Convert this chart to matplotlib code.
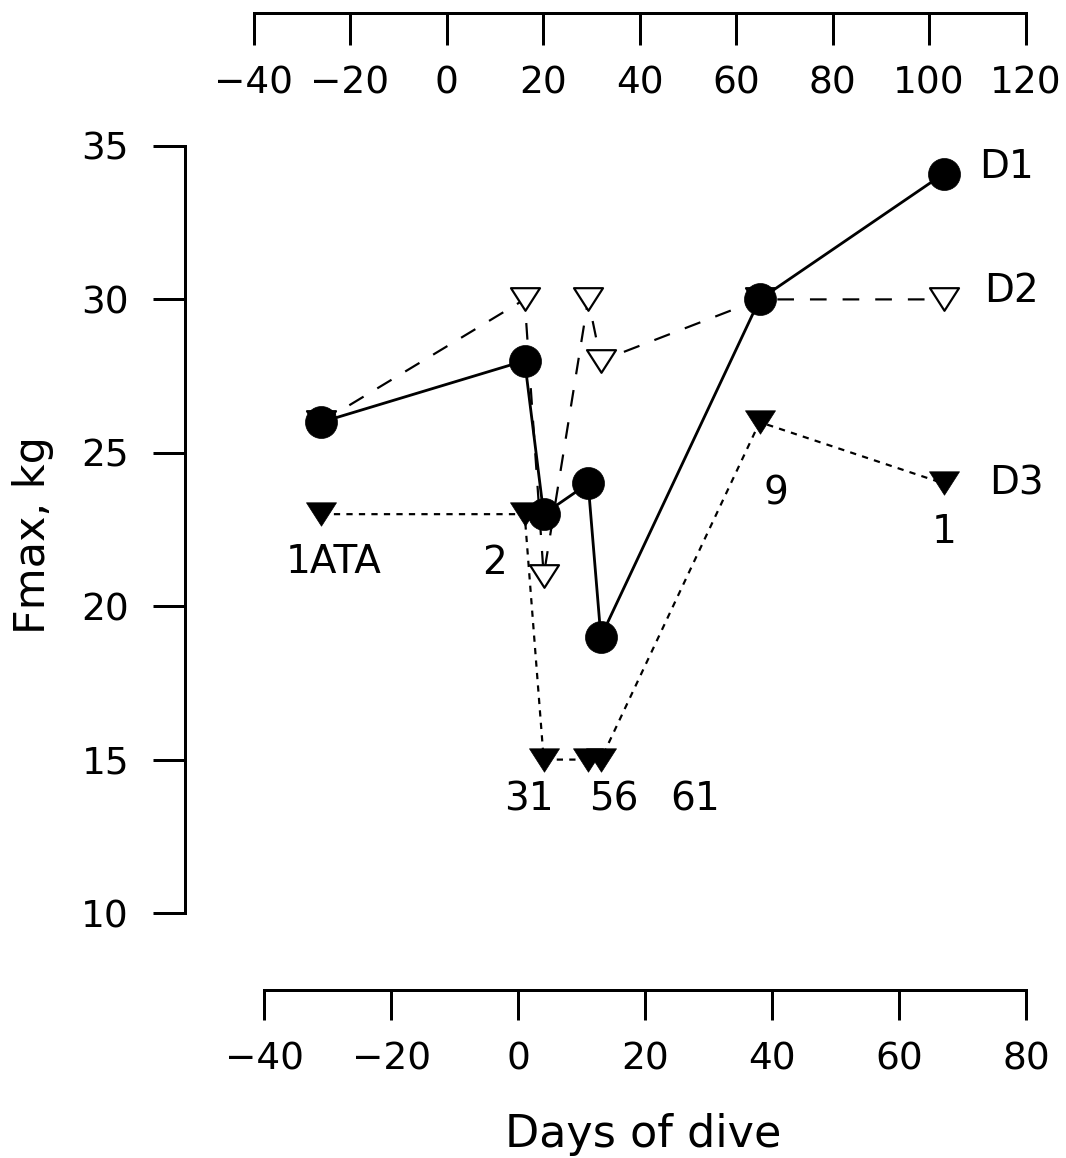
import matplotlib
matplotlib.use('Agg')
import matplotlib.pyplot as plt
from matplotlib.path import Path

# ---------------- data ----------------
days = [-31, 1, 4, 11, 13, 38, 67]
d1 = [26, 28, 23, 24, 19, 30, 34.1]
d2 = [26, 30, 21, 30, 28, 30, 30]
d3 = [23, 23, 15, 15, 15, 26, 24]
series_names = ['D1', 'D2', 'D3']
depth_labels = ['1ATA', '2', '31', '56', '61', '9', '1']
bottom_ticks = [-40, -20, 0, 20, 40, 60, 80]
top_ticks = [-40, -20, 0, 20, 40, 60, 80, 100, 120]
y_ticks = [10, 15, 20, 25, 30, 35]
xlabel = 'Days of dive'
ylabel = 'Fmax, kg'

# ---------------- layout ----------------
plt.rcParams['font.family'] = ['DejaVu Sans']
plt.rcParams['lines.scale_dashes'] = False
W, H = 1066, 1158
PX = 72 / 100.0  # points per pixel
fig = plt.figure(figsize=(W / 100, H / 100), dpi=100)


def fx(px):
    return px / W


def fy(py):
    return 1 - py / H


TICK_FS = 27
left_px, right_px = 185, 1045
ax = fig.add_axes([fx(left_px), fy(913), fx(right_px) - fx(left_px), fy(146) - fy(913)])
ax.set_xlim(-52.47, 82.92)
ax.set_ylim(10, 35)
ax.patch.set_visible(False)
for s in ['top', 'right']:
    ax.spines[s].set_visible(False)
ax.spines['left'].set_bounds(10, 35)
ax.spines['left'].set_linewidth(3 * PX)
ax.spines['bottom'].set_position(('outward', 77 * PX))
ax.spines['bottom'].set_bounds(-40, 80)
ax.spines['bottom'].set_linewidth(3 * PX)
ax.set_xticks(bottom_ticks)
ax.set_yticks(y_ticks)
ax.tick_params(axis='y', direction='out', length=32 * PX, width=3 * PX, pad=24 * PX, labelsize=TICK_FS)
ax.tick_params(axis='x', direction='out', length=30 * PX, width=3 * PX, pad=21 * PX, labelsize=TICK_FS)

# top axis (separate scale)
ax2 = fig.add_axes([fx(left_px), fy(13), fx(right_px) - fx(left_px), 1e-4])
ax2.set_xlim(-54.2, 124.03)
ax2.patch.set_visible(False)
for s in ['top', 'left', 'right']:
    ax2.spines[s].set_visible(False)
ax2.spines['bottom'].set_bounds(-40, 120)
ax2.spines['bottom'].set_linewidth(3 * PX)
ax2.set_yticks([])
ax2.set_xticks(top_ticks)
ax2.tick_params(axis='x', direction='out', length=32 * PX, width=3 * PX, pad=20 * PX, labelsize=TICK_FS)

# ---------------- markers ----------------
tri = Path([(-1, 0.78), (1, 0.78), (0, -0.78), (-1, 0.78)], closed=True)

ax.plot(days, d3, color='black', lw=2.2 * PX, linestyle=(0, (4.5, 4.5)),
        marker=tri, ms=30 * PX, mfc='black', mec='black', mew=0.5, zorder=2, clip_on=False)
ax.plot(days, d2, color='black', lw=2.2 * PX, linestyle=(0, (12, 11.5)),
        marker=tri, ms=29 * PX, mfc='white', mec='black', mew=2.2 * PX, zorder=3, clip_on=False)
ax.plot(days, d1, color='black', lw=2.8 * PX, linestyle='-',
        marker='o', ms=32 * PX, mfc='black', mec='black', mew=0.5, zorder=4, clip_on=False)

# depth labels under D3 points (pixel offsets)
depth_offsets = [(12, -48), (-30, -49), (-15, -40), (26, -40), (94, -40), (16, -71), (0, -49)]
for x, y, lab, off in zip(days, d3, depth_labels, depth_offsets):
    ax.annotate(lab, (x, y), xytext=off, textcoords='offset pixels',
                ha='center', va='center', fontsize=28, zorder=5)

# series labels at right end
name_offsets = [(35, 7), (40, 8), (45, 0)]
for ser, name, off in zip([d1, d2, d3], series_names, name_offsets):
    ax.annotate(name, (days[-1], ser[-1]), xytext=off, textcoords='offset pixels',
                ha='left', va='center', fontsize=28, zorder=5)

fig.text(fx(643), fy(1147), xlabel, ha='center', va='baseline', fontsize=32)
fig.text(fx(33), fy(535), ylabel, ha='center', va='center', rotation=90, fontsize=31)

fig.savefig('out.png', dpi=100)
